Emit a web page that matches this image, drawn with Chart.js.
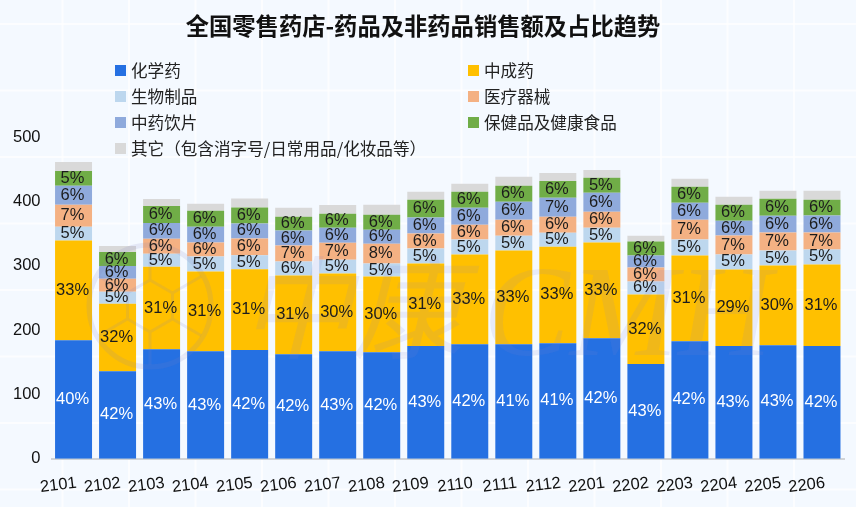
<!DOCTYPE html>
<html>
<head>
<meta charset="utf-8">
<title>全国零售药店</title>
<script src="https://cdn.jsdelivr.net/npm/chart.js@4"></script>
<style>
    html, body { margin: 0; padding: 0; background: #f4f9ff; }
    #wrap {
        position: relative; width: 856px; height: 507px; overflow: hidden;
        background-image:
            linear-gradient(to right, rgba(255,255,255,0.75) 2px, transparent 2px),
            linear-gradient(to bottom, rgba(255,255,255,0.75) 2px, transparent 2px);
        background-size: 66.5px 66.5px;
        background-position: -5px 23px;
    }
    #myChart { position: absolute; left: 0; top: 0; }
    #title { position: absolute; left: 0; top: 10px; width: 846px; text-align: center; font: bold 23.3px/30px "Noto Sans CJK SC", sans-serif; color: #111; }
    #legend { position: absolute; left: 115px; top: 57px; width: 560px; display: grid; grid-template-columns: 353px 1fr; grid-auto-rows: 26px; }
    .item { display: flex; align-items: center; font: 16.6px "Noto Sans CJK SC", sans-serif; color: #222; white-space: nowrap; }
    .swatch { width: 11px; height: 11px; margin-right: 5px; flex: none; }
</style>
</head>
<body>
<div id="wrap">
    <canvas id="myChart" width="856" height="507"></canvas>
    <div id="title">全国零售药店-药品及非药品销售额及占比趋势</div>
    <div id="legend"></div>
</div>
<script>
document.addEventListener("DOMContentLoaded", function () {

    const labels = ["2101", "2102", "2103", "2104", "2105", "2106", "2107", "2108", "2109",
        "2110", "2111", "2112", "2201", "2202", "2203", "2204", "2205", "2206"];

    const data = {
        labels: labels,
        datasets: [{
            label: '化学药',
            data: [184, 136, 170, 167, 169, 162.5, 167, 165.6, 175, 178, 178, 179.6, 187.3, 147, 182.7, 175, 176.5, 175],
            pct: [40, 42, 43, 43, 42, 42, 43, 42, 43, 42, 41, 41, 42, 43, 42, 43, 43, 42],
            backgroundColor: '#2570e2',
            labelColor: '#ffffff'
        }, {
            label: '中成药',
            data: [155, 105, 128.5, 124, 125.4, 122.3, 120.7, 117.6, 128.5, 139.3, 145.5, 150, 148.6, 108.4, 133, 119.2, 123.8, 127],
            pct: [33, 32, 31, 31, 31, 31, 30, 30, 31, 33, 33, 33, 33, 32, 31, 29, 30, 31],
            backgroundColor: '#ffc000'
        }, {
            label: '生物制品',
            data: [21.7, 18.6, 20, 23.2, 21.7, 21.7, 21.7, 20, 23.2, 23.2, 23.2, 21.7, 23.2, 20, 24.8, 23.2, 23.2, 23.2],
            pct: [5, 5, 5, 5, 5, 6, 5, 5, 5, 5, 5, 5, 5, 6, 5, 5, 5, 5],
            backgroundColor: '#bdd7ee'
        }, {
            label: '医疗器械',
            data: [34, 20, 23.2, 21.7, 26.3, 24.8, 26.3, 31, 23.2, 23.2, 24.8, 24.8, 24.8, 21.7, 31, 29.4, 27.9, 26.3],
            pct: [7, 6, 6, 6, 6, 7, 7, 8, 6, 6, 6, 6, 6, 6, 7, 7, 7, 7],
            backgroundColor: '#f4b183'
        }, {
            label: '中药饮片',
            data: [29.4, 20, 24.8, 24.8, 23.2, 23.2, 23.2, 21.7, 24.8, 26.3, 27.9, 29.4, 29.4, 18.6, 26.3, 23.2, 26.3, 26.3],
            pct: [6, 6, 6, 6, 6, 6, 6, 6, 6, 6, 6, 7, 6, 6, 6, 6, 6, 6],
            backgroundColor: '#8faadc'
        }, {
            label: '保健品及健康食品',
            data: [23.2, 21.7, 26.3, 24.8, 24.8, 21.7, 21.7, 23.2, 27.9, 24.8, 24.8, 26.3, 23.2, 21.7, 24.8, 24.8, 26.3, 24.8],
            pct: [5, 6, 6, 6, 6, 6, 6, 6, 6, 6, 6, 6, 5, 6, 6, 6, 6, 6],
            backgroundColor: '#70ad47'
        }, {
            label: '其它（包含消字号/日常用品/化妆品等）',
            data: [13.9, 9.3, 10.8, 10.8, 13.9, 13.9, 13.9, 15.5, 12.4, 12.4, 13.9, 12.4, 12.4, 9.3, 12.4, 12.4, 12.4, 13.9],
            backgroundColor: '#d9d9d9'
        }]
    };

    // faint company mark that lies over the bars
    const watermark = {
        id: 'watermark',
        afterDatasetsDraw(chart) {
            const ctx = chart.ctx;
            ctx.save();
            ctx.strokeStyle = 'rgba(130,125,190,0.14)';
            ctx.lineWidth = 5;
            ctx.beginPath();
            ctx.arc(150, 306, 61, 0, Math.PI * 2);
            ctx.stroke();
            ctx.lineWidth = 3;
            ctx.beginPath();
            for (let i = 0; i < 6; i++) {
                const a = Math.PI / 6 + i * Math.PI / 3;
                ctx.moveTo(150 + 26 * Math.cos(a), 306 + 26 * Math.sin(a));
                ctx.lineTo(150 + 59 * Math.cos(a), 306 + 59 * Math.sin(a));
                const b = a + Math.PI / 3;
                ctx.moveTo(150 + 26 * Math.cos(a), 306 + 26 * Math.sin(a));
                ctx.lineTo(150 + 26 * Math.cos(b), 306 + 26 * Math.sin(b));
            }
            ctx.stroke();
            ctx.fillStyle = 'rgba(130,130,205,0.12)';
            ctx.textAlign = 'left';
            ctx.textBaseline = 'alphabetic';
            ctx.font = 'italic 112px "Noto Sans CJK SC"';
            ctx.fillText('中康', 240, 350);
            ctx.font = 'italic 130px "Liberation Serif"';
            ctx.fillText('CMH', 483, 355);
            ctx.restore();
        }
    };

    // percentage inside each stacked segment
    const pctLabels = {
        id: 'pctLabels',
        afterDatasetsDraw(chart) {
            const ctx = chart.ctx;
            ctx.save();
            ctx.font = '16.5px "Liberation Sans"';
            ctx.textAlign = 'center';
            ctx.textBaseline = 'middle';
            chart.data.datasets.forEach(function (ds, i) {
                if (!ds.pct) return;
                ctx.fillStyle = ds.labelColor || '#1c1c1c';
                chart.getDatasetMeta(i).data.forEach(function (bar, j) {
                    ctx.fillText(ds.pct[j] + '%', bar.x - 1, (bar.y + bar.base) / 2);
                });
            });
            ctx.restore();
        }
    };

    const config = {
        type: 'bar',
        data: data,
        plugins: [watermark, pctLabels],
        options: {
            responsive: false,
            animation: false,
            layout: {
                padding: { left: 2, right: 12, top: 137, bottom: 7.5 }
            },
            datasets: {
                bar: { barPercentage: 0.84, categoryPercentage: 1 }
            },
            scales: {
                x: {
                    stacked: true,
                    grid: { display: false },
                    border: { color: '#d0d3d6', width: 2 },
                    // tilt the labels only after the fit, so they don't push the plot area inwards
                    afterFit: function (scale) {
                        scale.labelRotation = 7;
                    },
                    ticks: {
                        color: '#111',
                        minRotation: 0,
                        maxRotation: 0,
                        autoSkip: false,
                        padding: 6.5,
                        labelOffset: 3,
                        font: { size: 16.5, family: '"Liberation Sans"' }
                    }
                },
                y: {
                    stacked: true,
                    min: 0,
                    max: 500,
                    grid: { display: false, drawTicks: false },
                    border: { display: false },
                    ticks: {
                        stepSize: 100,
                        color: '#111',
                        padding: 11,
                        font: { size: 16.5, family: '"Liberation Sans"' }
                    }
                }
            },
            plugins: {
                title: { display: false },
                legend: { display: false },
                tooltip: { enabled: false }
            }
        }
    };

    var myChart = new Chart(document.getElementById('myChart'), config);

    const legend = document.getElementById('legend');
    myChart.data.datasets.forEach(function (ds) {
        const item = document.createElement('div');
        item.className = 'item';
        const swatch = document.createElement('span');
        swatch.className = 'swatch';
        swatch.style.background = ds.backgroundColor;
        item.appendChild(swatch);
        item.appendChild(document.createTextNode(ds.label));
        legend.appendChild(item);
    });
});
</script>
</body>
</html>
